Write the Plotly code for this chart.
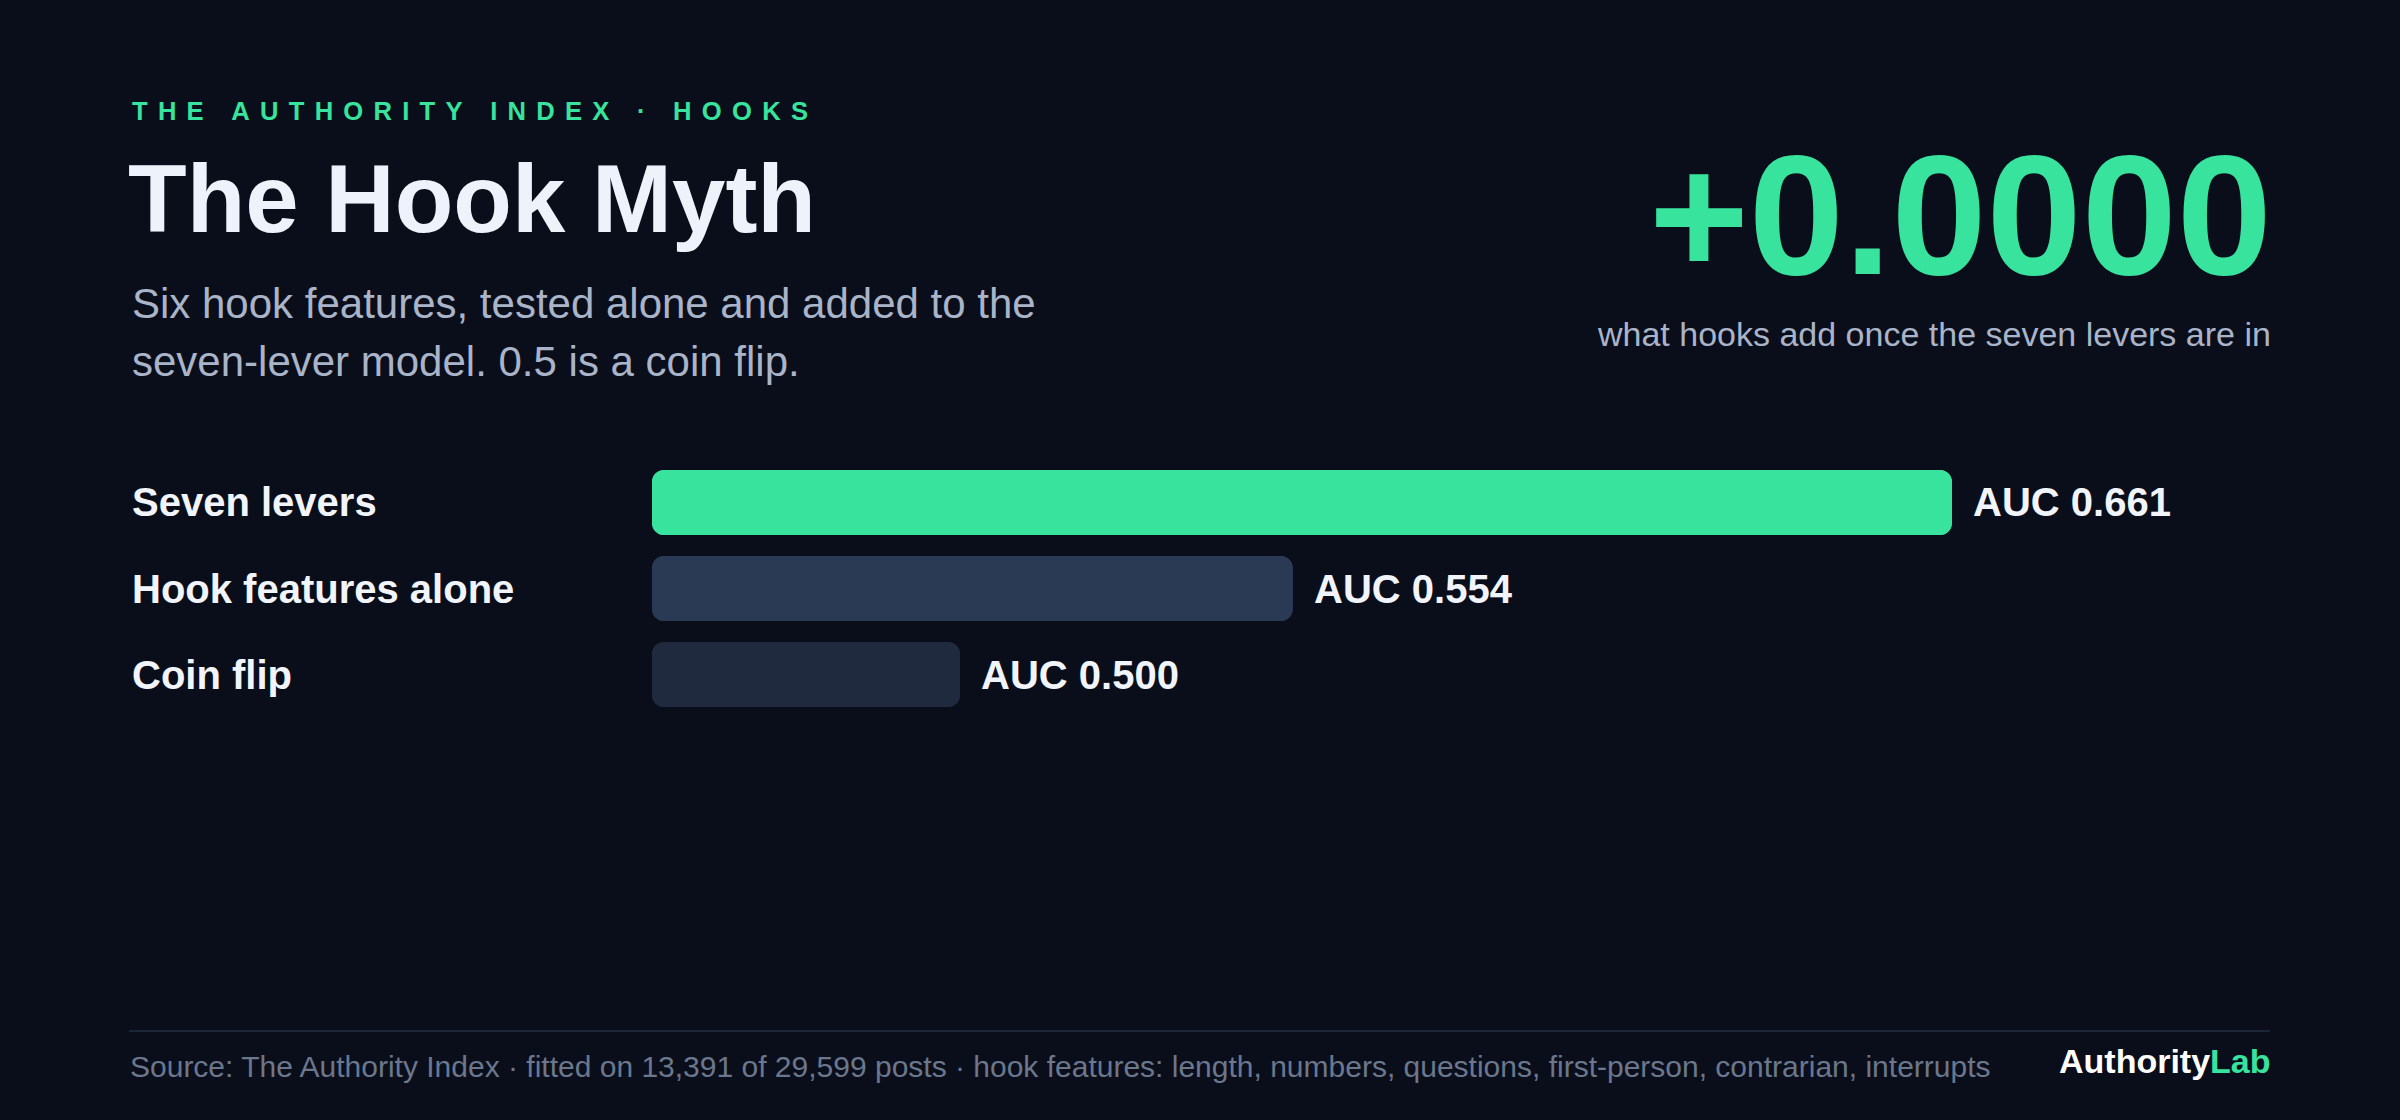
import plotly.graph_objects as go

# ---------------- data ----------------
CATEGORIES = ["Seven levers", "Hook features alone", "Coin flip"]
AUC = [0.661, 0.554, 0.500]
VALUE_LABELS = ["AUC 0.661", "AUC 0.554", "AUC 0.500"]
BAR_COLORS = ["#37e39d", "#2a3a55", "#1f2a3f"]

KICKER = "THE AUTHORITY INDEX · HOOKS"
TITLE = "The Hook Myth"
SUBTITLE_LINES = ["Six hook features, tested alone and added to the",
                  "seven-lever model. 0.5 is a coin flip."]
HEADLINE_VALUE = "+0.0000"
HEADLINE_CAPTION = "what hooks add once the seven levers are in"
FOOTER = ("Source: The Authority Index · fitted on 13,391 of 29,599 posts · "
          "hook features: length, numbers, questions, first-person, contrarian, interrupts")
BRAND_A, BRAND_B = "Authority", "Lab"

# ---------------- style ----------------
W, H = 2400, 1120
BG = "#0a0e1a"
GREEN = "#37e39d"
WHITE = "#eef2fa"
GRAY = "#a9b4c8"
DIM = "#6b778d"
FONT = "Liberation Sans, Arial, Helvetica, sans-serif"
AXIS_MIN, AXIS_MAX = 0.45, 0.7123
LEFT, RIGHT = 130, 2268


def px(x):
    return x / W


def py(y):
    return 1 - y / H


fig = go.Figure()
# main bars (rounded at the right end)
fig.add_trace(go.Bar(
    y=CATEGORIES, x=[v - AXIS_MIN for v in AUC], base=AXIS_MIN,
    orientation="h", marker=dict(color=BAR_COLORS, line=dict(width=0)),
    hoverinfo="skip", showlegend=False))
# same bars drawn from the other end so the left corners are rounded too
fig.add_trace(go.Bar(
    y=CATEGORIES, x=[AXIS_MIN - v for v in AUC], base=AUC,
    orientation="h", marker=dict(color=BAR_COLORS, line=dict(width=0)),
    hoverinfo="skip", showlegend=False))

ann = []
spaced = "\u2009\u2009".join(list(KICKER))
ann.append(dict(text=spaced, x=px(LEFT), y=py(111), xanchor="left", yanchor="middle",
                font=dict(family=FONT, size=25.6, color=GREEN, weight=700)))
ann.append(dict(text=TITLE, x=px(LEFT - 4), y=py(198), xanchor="left", yanchor="middle",
                font=dict(family=FONT, size=96, color=WHITE, weight=700)))
for i, line in enumerate(SUBTITLE_LINES):
    ann.append(dict(text=line, x=px(LEFT), y=py(303.5 + 58 * i), xanchor="left", yanchor="middle",
                    font=dict(family=FONT, size=42, color=GRAY)))
ann.append(dict(text=HEADLINE_VALUE, x=px(RIGHT + 6), y=py(215), xanchor="right", yanchor="middle",
                font=dict(family=FONT, size=171, color=GREEN, weight=700)))
ann.append(dict(text=HEADLINE_CAPTION, x=px(RIGHT + 5), y=py(334), xanchor="right", yanchor="middle",
                font=dict(family=FONT, size=34, color=GRAY)))
for cat, v, lab in zip(CATEGORIES, AUC, VALUE_LABELS):
    ann.append(dict(text=cat, xref="paper", x=px(LEFT), yref="y", y=cat,
                    xanchor="left", yanchor="middle",
                    font=dict(family=FONT, size=40, color="#f1f5fb", weight=700)))
    ann.append(dict(text=lab, xref="x", x=v, yref="y", y=cat, xshift=19,
                    xanchor="left", yanchor="middle",
                    font=dict(family=FONT, size=40, color="#f1f5fb", weight=700)))
ann.append(dict(text=FOOTER, x=px(LEFT - 2), y=py(1066), xanchor="left", yanchor="middle",
                font=dict(family=FONT, size=30, color=DIM)))
ann.append(dict(text=f"{BRAND_A}<span style='color:{GREEN}'>{BRAND_B}</span>",
                x=px(RIGHT + 5), y=py(1061), xanchor="right", yanchor="middle",
                font=dict(family=FONT, size=34, color="#ffffff", weight=700)))
for a in ann:
    a.setdefault("xref", "paper")
    a.setdefault("yref", "paper")
    a["showarrow"] = False

fig.update_layout(
    width=W, height=H,
    margin=dict(l=0, r=0, t=0, b=0, pad=0),
    paper_bgcolor=BG, plot_bgcolor=BG,
    barmode="overlay", bargap=1 - 65 / 86, barcornerradius=12,
    annotations=ann,
    shapes=[dict(type="line", xref="paper", yref="paper",
                 x0=px(129), x1=px(2270), y0=py(1031), y1=py(1031),
                 line=dict(color="#1c2538", width=2))],
    xaxis=dict(domain=[px(652), px(RIGHT)], range=[AXIS_MIN, AXIS_MAX],
               visible=False, fixedrange=True),
    yaxis=dict(domain=[py(717.5), py(459.5)], type="category",
               categoryorder="array", categoryarray=CATEGORIES,
               range=[2.5, -0.5], visible=False, fixedrange=True),
    font=dict(family=FONT),
    hovermode=False,
)

fig.write_html("out.html", config={"displayModeBar": False},
               post_script="document.body.style.margin='0';document.body.style.overflow='hidden';document.body.style.background='" + BG + "';")
